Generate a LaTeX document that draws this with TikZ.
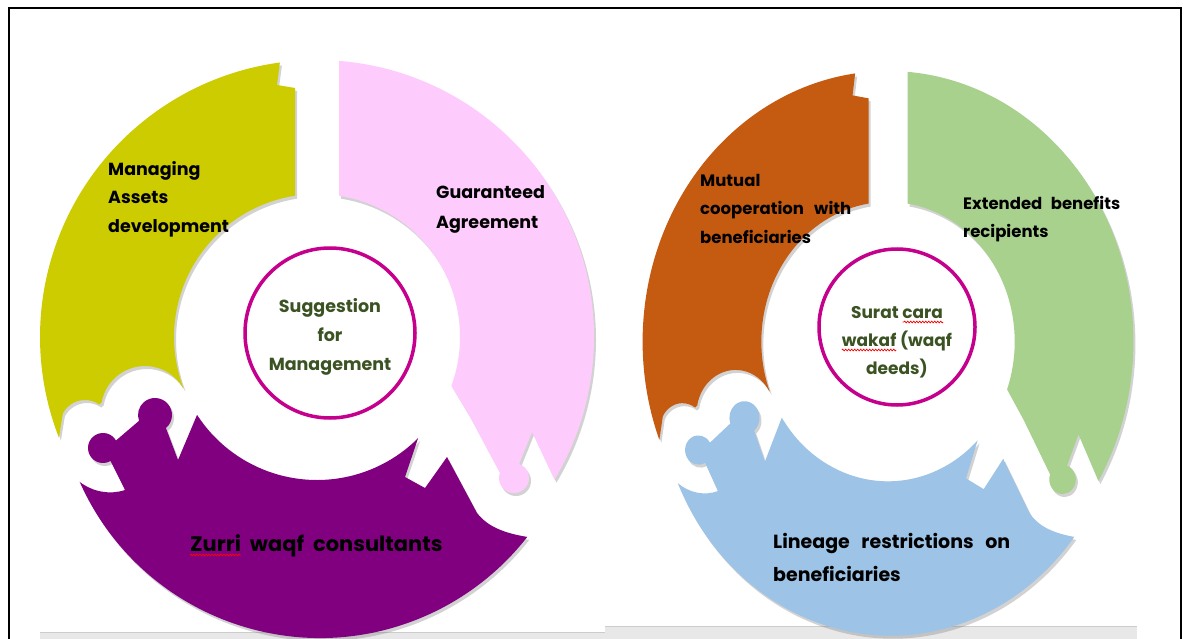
\documentclass[tikz,border=0pt]{standalone}
\usepackage{fontspec}
\setmainfont{Poppins}
\usetikzlibrary{positioning,shadows,decorations.pathmorphing}

\definecolor{olivey}{RGB}{204,204,0}
\definecolor{pinkish}{RGB}{253,204,253}
\definecolor{plum}{RGB}{128,0,128}
\definecolor{rust}{RGB}{197,90,17}
\definecolor{sage}{RGB}{169,209,142}
\definecolor{skyblue}{RGB}{157,195,230}
\definecolor{ringmag}{RGB}{196,0,140}
\definecolor{leafgreen}{RGB}{59,83,35}
\definecolor{bandgrey}{RGB}{232,232,232}

\newlength\zurriwd
\newlength\carawd
\newlength\wakafwd

% three interlocking pieces round (0,0), y pointing down
\newcommand\puzzlering[3]{%
  % upper left piece, notched at the top, scalloped below
  \fill[#1, piece] (-97.7:277) arc[start angle=-97.7, end angle=-201.3, radius=277]
    -- ([shift={(-232,88)}]-152.4:25) arc[start angle=-152.4, end angle=-55, radius=25]
    -- ([shift={(-172,73)}]-170:44) arc[start angle=-170, end angle=-30, radius=44]
    -- (-200.8:143) arc[start angle=-200.8, end angle=-98.85, radius=143]
    -- (-22,-249) -- (-40,-252) -- cycle;
  % upper right piece with the hook
  \fill[#2, piece] (-85.4:277) arc[start angle=-85.4, end angle=31, radius=277]
    -- (215,95) -- ([shift={(197,141)}]-70:15) arc[start angle=-70, end angle=200, radius=15]
    -- (153,80) -- (20:143) arc[start angle=20, end angle=-81.15, radius=143] -- cycle;
  % bottom piece with the two knobs
  \fill[#3, piece] ([shift={(3,38)}]156:263) arc[start angle=156, end angle=38, radius=263]
    .. controls (180,195) and (168,186) .. (160,176) -- (130,120) -- (108,151) -- (88,140)
    -- (45:143) arc[start angle=45, end angle=147, radius=143]
    -- (-139,123) -- ([shift={(-162,78)}]50:17) arc[start angle=50, end angle=-200, radius=17]
    -- ([shift={(-214,111)}]-30:15) arc[start angle=-30, end angle=-300, radius=15]
    -- (-192,153) .. controls (-207,158) and (-224,155) .. ([shift={(3,38)}]156:263) -- cycle;
}

\begin{document}
\settowidth\zurriwd{\bfseries\fontsize{21}{33}\selectfont Zurri}%
\settowidth\carawd{\bfseries\fontsize{17}{28}\selectfont cara}%
\settowidth\wakafwd{\bfseries\fontsize{17}{28}\selectfont wakaf}%
\begin{tikzpicture}[x=1pt, y=-1pt,
    piece/.style={drop shadow={shadow xshift=2pt, shadow yshift=-3pt, opacity=.35}},
    lbl/.style={inner sep=0pt, anchor=base west, align=left,
      font=\bfseries\fontsize{17.5}{29}\selectfont},
    smalllbl/.style={lbl, font=\bfseries\fontsize{16.5}{28}\selectfont},
    biglbl/.style={lbl, font=\bfseries\fontsize{19}{33}\selectfont},
    hub/.style={circle, draw=ringmag, line width=3.5pt, inner sep=0pt},
    hubtext/.style={inner sep=0pt, anchor=base, text=leafgreen,
      font=\bfseries\fontsize{17.5}{28}\selectfont},
    spell/.style={red, line width=.7pt, decorate,
      decoration={snake, amplitude=.9pt, segment length=3pt}}]
    \useasboundingbox (0,0) rectangle (1188,639);
    \fill[white] (0,0) rectangle (1188,639);

    % grey bands at the foot
    \fill[bandgrey] (40,632) rectangle (605,639);
    \draw[black!20] (40,632) -- (605,632);
    \fill[bandgrey] (605,626) rectangle (1137,639);
    \draw[black!20] (605,626) -- (1137,626);

    % frame
    \draw[line width=1.2pt] (9,639) -- (9,8) -- (1181,8) -- (1181,639);

    \begin{scope}[shift={(317,337)}]
      \puzzlering{olivey}{pinkish}{plum}
    \end{scope}
    \begin{scope}[shift={(888,341.6)}, xscale=.886, yscale=.977]
      \puzzlering{rust}{sage}{skyblue}
    \end{scope}

    \node[hub, minimum size=170pt] (hubL) at (330,333) {};
    \node[hub, minimum size=156pt] (hubR) at (897,327) {};

    \node[hubtext] (sugg1) at (330,312) {Suggestion};
    \node[hubtext] (sugg2) at (330,341) {for};
    \node[hubtext] (sugg3) at (330,370) {Management};
    \node[hubtext, font=\bfseries\fontsize{17}{28}\selectfont] (surat1) at (897,318) {Surat cara};
    \node[hubtext, font=\bfseries\fontsize{17}{28}\selectfont] (surat2) at (897,346) {wakaf (waqf};
    \node[hubtext, font=\bfseries\fontsize{17}{28}\selectfont] (surat3) at (897,374) {deeds)};
    \draw[spell] ([yshift=-4pt]surat1.base east) -- ++(-\carawd,0);
    \draw[spell] ([yshift=-4pt]surat2.base west) -- ++(\wakafwd,0);

    % without text width the base anchor sits on the last line
    \node[lbl] (managing) at (108,233) {Managing\\Assets\\development};
    \node[lbl] (guaranteed) at (436,228) {Guaranteed\\Agreement};
    \node[biglbl, font=\bfseries\fontsize{21}{33}\selectfont] (zurri) at (190,551) {Zurri \ waqf \ consultants};
    \draw[spell] ([yshift=-4pt]zurri.base west) -- ++(\zurriwd,0);

    % with text width it sits on the first line
    \node[smalllbl, text width=151pt] (mutual) at (700,187) {Mutual\\cooperation\hfill with\\beneficiaries};
    \node[smalllbl, text width=157pt] (extended) at (963,210) {Extended\hfill benefits\\recipients};
    \node[biglbl, text width=237pt] (lineage) at (773,548) {Lineage\hfill restrictions\hfill on\\beneficiaries};
\end{tikzpicture}
\end{document}
